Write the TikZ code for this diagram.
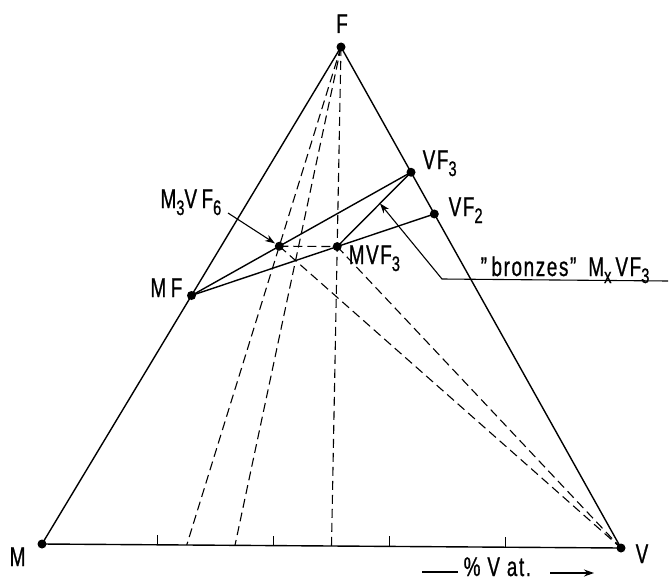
\documentclass[tikz,border=0pt]{standalone}
\usepackage{fontspec}
\setmainfont[FakeStretch=0.7, LetterSpace=6, FakeBold=0.8]{Liberation Sans}
\usetikzlibrary{arrows.meta,calc}
\newcommand\sbs[1]{\raisebox{-7pt}{\fontsize{21}{21}\selectfont #1}}
\begin{document}
\begin{tikzpicture}[x=1pt,y=-1pt, line width=1.4pt,
  lbl/.style={inner sep=0pt, font=\fontsize{27}{27}\selectfont},
  dot/.style={circle, fill, inner sep=0pt, minimum size=9pt},
  dsh/.style={dash pattern=on 9pt off 5pt, line width=1.1pt},
  arr/.style={-{Stealth[length=10pt,width=7pt]}}]
\useasboundingbox (0,0) rectangle (671,583);
% corners
\coordinate (M) at (42,544);
\coordinate (V) at (621,548);
\coordinate (F) at (341,47);
\coordinate (MF) at ($(M)!0.5!(F)$);
\coordinate (VF3) at ($(V)!0.75!(F)$);
\coordinate (VF2) at ($(V)!0.6667!(F)$);
\coordinate (M3) at ($(MF)!0.4!(VF3)$);
\coordinate (MV) at ($(MF)!0.6!(VF2)$);
\coordinate (B25) at ($(M)!0.25!(V)$);
\coordinate (B33) at ($(M)!0.3333!(V)$);
\coordinate (B50) at ($(M)!0.5!(V)$);
% dots
\node[dot] (nM) at (M) {};
\node[dot] (nV) at (V) {};
\node[dot] (nF) at (F) {};
\node[dot] (nMF) at (MF) {};
\node[dot] (nVF3) at (VF3) {};
\node[dot] (nVF2) at (VF2) {};
\node[dot] (nM3) at (M3) {};
\node[dot] (nMV) at (MV) {};
% triangle
\draw (M) -- (F) -- (V) -- cycle;
% ticks
\foreach \t in {0.2,0.4,0.6,0.8} \draw[line width=1.1pt] ($(M)!\t!(V)$) -- ++(0,-10);
% solid tie lines
\draw (MF) -- (VF3);
\draw (MF) -- (VF2);
\draw (MV) -- (VF3);
% dashed lines
\draw[dsh] (F) -- (B25);
\draw[dsh] (F) -- (B33);
\draw[dsh] (F) -- (B50);
\draw[dsh] (M3) -- (MV);
\draw[dsh] (M3) -- (V);
\draw[dsh] (MV) -- (V);
% labels
\node[lbl, anchor=base] (lF) at (342,33) {F};
\node[lbl, anchor=base west] (lVF3) at (422,169) {VF\sbs{3}};
\node[lbl, anchor=base west] (lVF2) at (448,216) {VF\sbs{2}};
\node[lbl, anchor=base east] (lMF) at (183,297) {M\,F};
\node[lbl, anchor=base east] (lM3) at (222,208) {M\sbs{3}V\,F\sbs{6}};
\node[lbl, anchor=base west] (lMV) at (348,264) {MVF\sbs{3}};
\node[lbl, anchor=base west] (lM) at (9,566) {M};
\node[lbl, anchor=base west] (lV) at (635,563) {V};
\node[lbl, anchor=base west] (lbr) at (480,276) {”\,bronzes”\hspace{12pt}M\sbs{x}\hspace{4pt}VF\sbs{3}};
\node[lbl, anchor=base west] (lpc) at (463,576) {\% V at.};
% label arrows
\coordinate (a1) at (228,213);
\draw[arr, line width=1.1pt] (a1) -- (nM3);
\coordinate (b1) at (668,281);
\coordinate (b0) at (442,279);
\coordinate (bt) at ($(MV)!0.58!(VF3)$);
\draw[arr, line width=1.1pt] (b1) -- (b0) -- (bt);
\coordinate (p0) at (422,572);
\coordinate (p1) at (458,572);
\draw[line width=1.5pt] (p0) -- (p1);
\coordinate (q0) at (550,573);
\coordinate (q1) at (594,573);
\draw[arr, line width=1.5pt] (q0) -- (q1);
\end{tikzpicture}
\end{document}
